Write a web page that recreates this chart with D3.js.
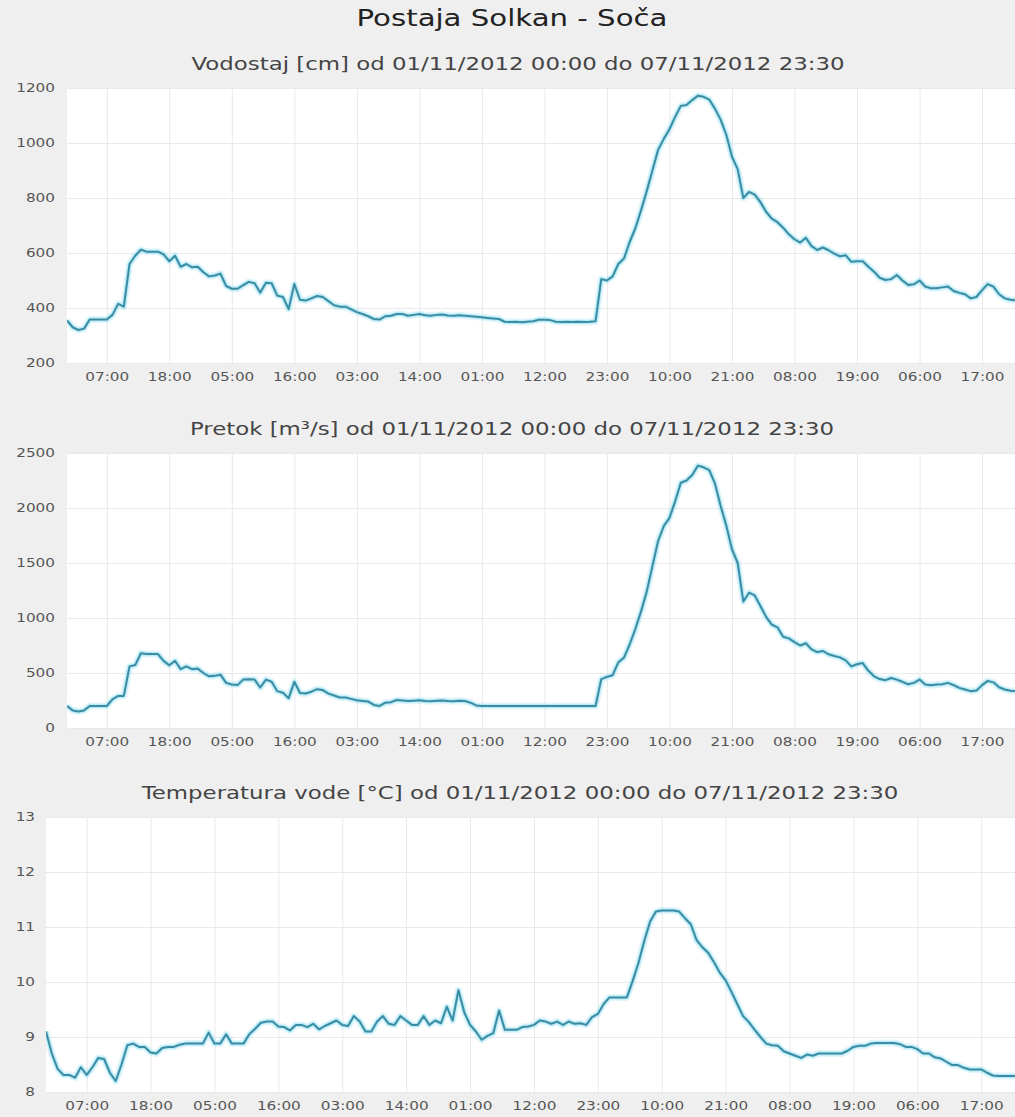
<!DOCTYPE html>
<html>
<head>
<meta charset="utf-8">
<script src="https://cdn.jsdelivr.net/npm/d3@7"></script>
<style>
  html, body { margin: 0; padding: 0; background: #efefef; }
  svg { display: block; font-family: "DejaVu Sans", sans-serif; }
</style>
</head>
<body>
<div id="chart"></div>
<script>
// Hourly readings, 01/11/2012 00:00 .. 07/11/2012 23:00
const startTime = new Date(2012, 10, 1, 0, 0);

const vodostaj = [
  355, 330, 320, 325, 358, 358, 358, 358, 375, 415, 405, 560,
  590, 612, 605, 605, 605, 595, 570, 590, 550, 560, 548, 550,
  530, 515, 518, 525, 480, 470, 470, 483, 495, 490, 456, 492,
  490, 445, 440, 396, 487, 430, 427, 435, 444, 440, 425, 410,
  405, 405, 395, 385, 378, 370, 360, 358, 370, 372, 378, 378,
  372, 375, 378, 374, 372, 375, 376, 373, 372, 374, 372, 370,
  368, 366, 364, 362, 360, 350, 349, 350, 348, 350, 352, 357,
  357, 356, 350, 349, 350, 349, 350, 349, 350, 352, 505, 500,
  515, 560, 580, 640, 690, 755, 825, 900, 975, 1015, 1050, 1095,
  1135, 1138, 1156, 1172, 1168, 1158, 1125, 1085, 1030, 950, 905, 800,
  822, 812, 785, 750, 725, 712, 692, 668, 650, 638, 655, 625,
  611, 620, 610, 598, 588, 592, 568, 570, 570, 550, 532, 510,
  502, 505, 520, 500, 484, 486, 500, 478, 472, 472, 475, 478,
  462, 455, 450, 435, 440, 465, 487, 478, 450, 435, 430, 428
];

const pretok = [
  200, 160, 150, 160, 200, 200, 200, 200, 260, 292, 292, 560,
  572, 680, 672, 672, 672, 610, 570, 611, 535, 560, 535, 540,
  500, 470, 474, 485, 410, 395, 390, 440, 444, 440, 368, 440,
  420, 335, 320, 271, 420, 318, 313, 330, 353, 345, 313, 295,
  277, 277, 265, 252, 246, 240, 210, 201, 230, 235, 255, 250,
  245, 248, 252, 246, 244, 248, 250, 246, 244, 247, 245, 230,
  205, 200, 200, 200, 200, 200, 200, 200, 200, 200, 200, 200,
  200, 200, 200, 200, 200, 200, 200, 200, 200, 200, 444, 465,
  480, 596, 640, 760, 900, 1060, 1240, 1470, 1700, 1835, 1910, 2060,
  2230, 2250, 2300, 2385, 2370, 2345, 2223, 2020, 1840, 1625, 1500, 1150,
  1230, 1205, 1110, 1010, 940, 915, 830, 815, 780, 750, 770, 715,
  690, 700, 670, 655, 642, 615, 560, 580, 590, 520, 470, 445,
  435, 455, 440, 420, 398, 410, 440, 395, 388, 396, 398, 410,
  390, 365, 350, 335, 340, 390, 428, 415, 370, 350, 338, 335
];

const temperatura = [
  9.10, 8.70, 8.42, 8.31, 8.31, 8.26, 8.45, 8.31, 8.45, 8.62, 8.60, 8.35,
  8.20, 8.50, 8.85, 8.88, 8.82, 8.82, 8.72, 8.70, 8.80, 8.82, 8.82, 8.86,
  8.88, 8.88, 8.88, 8.88, 9.08, 8.88, 8.88, 9.05, 8.88, 8.88, 8.88, 9.05,
  9.15, 9.26, 9.28, 9.28, 9.19, 9.18, 9.12, 9.22, 9.22, 9.18, 9.24, 9.14,
  9.20, 9.25, 9.30, 9.22, 9.20, 9.38, 9.28, 9.10, 9.10, 9.28, 9.38, 9.24,
  9.22, 9.38, 9.30, 9.22, 9.22, 9.38, 9.22, 9.30, 9.25, 9.55, 9.30, 9.85,
  9.45, 9.22, 9.10, 8.95, 9.02, 9.07, 9.48, 9.13, 9.13, 9.13, 9.18, 9.19,
  9.22, 9.30, 9.28, 9.24, 9.28, 9.22, 9.28, 9.24, 9.25, 9.22, 9.36, 9.42,
  9.60, 9.72, 9.72, 9.72, 9.72, 10.02, 10.35, 10.75, 11.10, 11.28, 11.30, 11.30,
  11.30, 11.28, 11.16, 11.05, 10.76, 10.63, 10.53, 10.36, 10.17, 10.03, 9.82, 9.60,
  9.38, 9.27, 9.13, 9.00, 8.88, 8.85, 8.84, 8.74, 8.70, 8.66, 8.62, 8.68,
  8.66, 8.70, 8.70, 8.70, 8.70, 8.70, 8.75, 8.82, 8.84, 8.84, 8.88, 8.89,
  8.89, 8.89, 8.89, 8.87, 8.82, 8.82, 8.78, 8.70, 8.70, 8.63, 8.61, 8.55,
  8.49, 8.49, 8.44, 8.41, 8.41, 8.41, 8.35, 8.30, 8.29, 8.29, 8.29, 8.29
];

// x ticks: hours after start, labelled HH:MM
const tickHours = [7, 18, 29, 40, 51, 62, 73, 84, 95, 106, 117, 128, 139, 150, 161];

const mainTitle = 'Postaja Solkan - Soča';
const subTitles = [
  'Vodostaj [cm] od 01/11/2012 00:00 do 07/11/2012 23:30',
  'Pretok [m³/s] od 01/11/2012 00:00 do 07/11/2012 23:30',
  'Temperatura vode [°C] od 01/11/2012 00:00 do 07/11/2012 23:30'
];
const yDomains = [[200, 1200], [0, 2500], [8, 13]];
const yTicks = [
  [200, 400, 600, 800, 1000, 1200],
  [0, 500, 1000, 1500, 2000, 2500],
  [8, 9, 10, 11, 12, 13]
];

const W = 1015, H = 1117;
const panelTop = [88, 453, 817];
const panelLeft = [67, 67, 46];
const labelRight = [55, 55, 35];
const plotRight = 1019;
const plotH = 275;
// the source picture is stretched sideways, so text is too
const stretch = 1.27;

const svg = d3.select('#chart').append('svg')
  .attr('width', W)
  .attr('height', H);

svg.append('rect').attr('width', W).attr('height', H).attr('fill', '#efefef');

svg.append('text')
  .attr('transform', `translate(512,26) scale(${stretch},1)`)
  .attr('text-anchor', 'middle')
  .attr('font-size', 23)
  .attr('fill', '#222')
  .text(mainTitle);

const hourMs = 3600 * 1000;
const toTime = h => new Date(startTime.getTime() + h * hourMs);
const endTime = toTime(167.5);

const series = [vodostaj, pretok, temperatura];
const subX = [518, 512, 520];

series.forEach((values, p) => {
  const top = panelTop[p];
  const left = panelLeft[p];
  const data = values.map((v, i) => ({ t: toTime(i), v: v }));

  const x = d3.scaleTime().domain([startTime, endTime]).range([left, plotRight]);
  const y = d3.scaleLinear().domain(yDomains[p]).range([top + plotH, top]);

  // subtitle
  svg.append('text')
    .attr('transform', `translate(${subX[p]},${top - 18}) scale(${stretch},1)`)
    .attr('text-anchor', 'middle')
    .attr('font-size', 18)
    .attr('fill', '#444')
    .text(subTitles[p]);

  // plot background
  svg.append('rect')
    .attr('x', left).attr('y', top)
    .attr('width', plotRight - left).attr('height', plotH)
    .attr('fill', '#fff');

  // vertical grid + x labels
  const xAxis = d3.axisBottom(x)
    .tickValues(tickHours.map(toTime))
    .tickFormat(d3.timeFormat('%H:%M'))
    .tickSize(-plotH)
    .tickPadding(9);

  const gx = svg.append('g')
    .attr('transform', `translate(0,${top + plotH})`)
    .call(xAxis);
  gx.select('.domain').remove();
  gx.selectAll('line').attr('stroke', '#e9e9e9');
  gx.selectAll('text')
    .attr('font-size', 12)
    .attr('fill', '#555')
    .attr('font-family', '"DejaVu Sans", sans-serif')
    .attr('transform', `scale(${stretch},1)`);

  // horizontal grid + y labels
  const yAxis = d3.axisLeft(y)
    .tickValues(yTicks[p])
    .tickFormat(d3.format('d'))
    .tickSize(0);

  const gy = svg.append('g')
    .attr('transform', `translate(${left},0)`)
    .call(yAxis);
  gy.select('.domain').remove();
  gy.selectAll('.tick').append('line')
    .attr('x2', plotRight - left)
    .attr('stroke', '#e9e9e9');
  gy.selectAll('text')
    .attr('x', null)
    .attr('transform', `translate(${labelRight[p] - left},0) scale(${stretch},1)`)
    .attr('font-size', 12)
    .attr('fill', '#555')
    .attr('font-family', '"DejaVu Sans", sans-serif');

  const line = d3.line()
    .x(d => x(d.t))
    .y(d => y(d.v));

  const clipId = 'clip' + p;
  svg.append('clipPath').attr('id', clipId)
    .append('rect')
    .attr('x', left).attr('y', top - 4)
    .attr('width', plotRight - left).attr('height', plotH + 8);

  const g = svg.append('g').attr('clip-path', `url(#${clipId})`);

  // soft cyan glow under the line
  g.append('path').datum(data)
    .attr('d', line)
    .attr('fill', 'none')
    .attr('stroke', '#a9e6f5')
    .attr('stroke-width', 7)
    .attr('stroke-opacity', 0.35)
    .attr('stroke-linejoin', 'round');
  g.append('path').datum(data)
    .attr('d', line)
    .attr('fill', 'none')
    .attr('stroke', '#8fdcf0')
    .attr('stroke-width', 4)
    .attr('stroke-opacity', 0.5)
    .attr('stroke-linejoin', 'round');

  g.append('path').datum(data)
    .attr('d', line)
    .attr('fill', 'none')
    .attr('stroke', '#3a8da3')
    .attr('stroke-width', 2)
    .attr('stroke-linejoin', 'round');
});
</script>
</body>
</html>
